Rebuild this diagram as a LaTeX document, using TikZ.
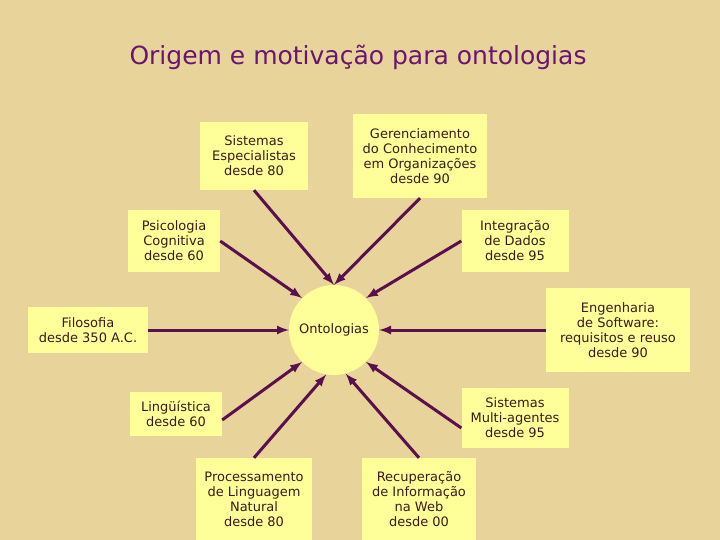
\documentclass[tikz,border=0pt]{standalone}
\usepackage{fontspec}
\setmainfont{DejaVu Sans}
\begin{document}
\begin{tikzpicture}[x=1pt,y=-1pt,
  bx/.style={fill=boxy,inner sep=3pt,align=center,font=\fontsize{13}{15}\selectfont,text=txt},
  ar/.style={-latex,line width=3pt,draw=arr}]
\definecolor{bg}{HTML}{E8D39A}
\definecolor{boxy}{HTML}{FFFF99}
\definecolor{arr}{HTML}{5A0F4E}
\definecolor{txt}{HTML}{3A1A1A}
\definecolor{ttl}{HTML}{6A1570}
\fill[bg] (0,0) rectangle (720,540);
\useasboundingbox (0,0) rectangle (720,540);
\node[text=ttl,font=\fontsize{25}{28}\selectfont] (t) at (358,57) {Origem e motivação para ontologias};
\node[circle,fill=boxy,minimum size=90pt,inner sep=0pt,font=\fontsize{13}{15}\selectfont,text=txt] (o) at (334,330) {Ontologias};
\node[bx,minimum width=108pt,minimum height=68pt] (se) at (254,156) {Sistemas\\Especialistas\\desde 80};
\node[bx,minimum width=134pt,minimum height=84pt] (gc) at (420,156) {Gerenciamento\\do Conhecimento\\em Organizações\\desde 90};
\node[bx,minimum width=92pt,minimum height=62pt] (ps) at (174,241) {Psicologia\\Cognitiva\\desde 60};
\node[bx,minimum width=107pt,minimum height=62pt] (id) at (515,241) {Integração\\de Dados\\desde 95};
\node[bx,minimum width=120pt,minimum height=46pt] (fi) at (88,330) {Filosofia\\desde 350 A.C.};
\node[bx,minimum width=144pt,minimum height=84pt] (es) at (618,330) {Engenharia\\de Software:\\requisitos e reuso\\desde 90};
\node[bx,minimum width=92pt,minimum height=44pt] (li) at (176,414) {Lingüística\\desde 60};
\node[bx,minimum width=107pt,minimum height=60pt] (ma) at (515,418) {Sistemas\\Multi-agentes\\desde 95};
\node[bx,minimum width=116pt,minimum height=82pt] (pl) at (254,499) {Processamento\\de Linguagem\\Natural\\desde 80};
\node[bx,minimum width=114pt,minimum height=82pt] (ri) at (419,499) {Recuperação\\de Informação\\na Web\\desde 00};
\draw[ar] (se.south) -- (o.north);
\draw[ar] (gc.south) -- (o.north);
\draw[ar] (ps.east) -- (o.135);
\draw[ar] (id.west) -- (o.45);
\draw[ar] (fi.east) -- (o.west);
\draw[ar] (es.west) -- (o.east);
\draw[ar] ([yshift=-6pt]li.east) -- (o.225);
\draw[ar] ([yshift=-10pt]ma.west) -- (o.-45);
\draw[ar] (pl.north) -- (o.-100);
\draw[ar] (ri.north) -- (o.-75);
\end{tikzpicture}
\end{document}
